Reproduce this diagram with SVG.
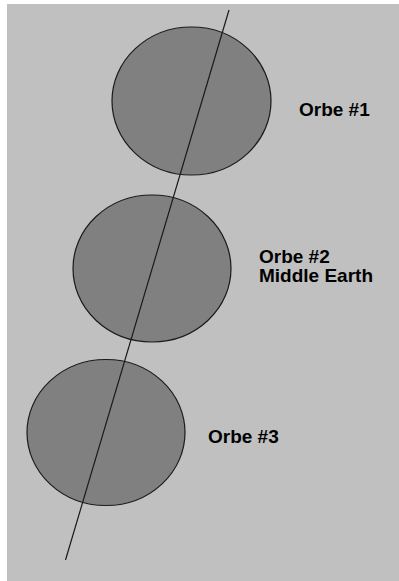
<svg xmlns="http://www.w3.org/2000/svg" width="399" height="581" viewBox="0 0 399 581">
<style>
.orb{fill:#808080;stroke:#1a1a1a;stroke-width:1.2}
.lbl{font-family:"Liberation Sans",Arial,sans-serif;font-weight:bold;font-size:19px;fill:#000}
</style>
<rect x="0" y="0" width="399" height="581" fill="#ffffff"/>
<rect x="7" y="4" width="392" height="577" fill="#c0c0c0"/>
<g id="orbe1"><ellipse class="orb" cx="191.5" cy="101" rx="79.5" ry="74"/><text class="lbl" x="299" y="116">Orbe #1</text></g>
<g id="orbe2"><ellipse class="orb" cx="152" cy="268.5" rx="79" ry="73.5"/><text class="lbl" x="259" y="263">Orbe #2</text><text class="lbl" x="259" y="282">Middle Earth</text></g>
<g id="orbe3"><ellipse class="orb" cx="106" cy="432.5" rx="79" ry="73"/><text class="lbl" x="208" y="443">Orbe #3</text></g>
<g id="connectors"><line x1="229" y1="10" x2="65.5" y2="560" stroke="#1a1a1a" stroke-width="1.2"/></g>
</svg>
